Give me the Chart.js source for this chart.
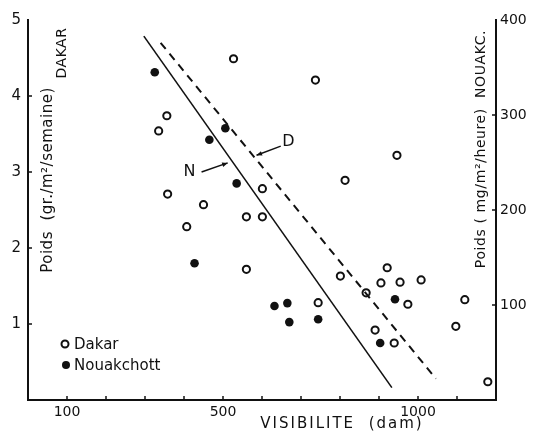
<!DOCTYPE html>
<html>
<head>
<meta charset="utf-8">
<script src="https://cdn.jsdelivr.net/npm/chart.js@4"></script>
<style>
  body { margin: 0; background: #fff; }
  #wrap { width: 535px; height: 434px; }
</style>
</head>
<body>
<div id="wrap"><canvas id="canvas"></canvas></div>
<script>

// Dakar: visibility (dam) and weight (gr/m2/semaine, left axis)
let visDakar   = [527, 737, 356, 335, 358, 601, 450, 560, 601, 407, 560, 813, 946, 744, 801, 921, 905, 954, 1008, 867, 974, 1120, 1097, 890, 939, 1179];
let poidsDakar = [4.49, 4.21, 3.74, 3.54, 2.71, 2.78, 2.57, 2.41, 2.41, 2.28, 1.72, 2.89, 3.22, 1.28, 1.63, 1.74, 1.54, 1.55, 1.58, 1.41, 1.26, 1.32, 0.97, 0.92, 0.75, 0.24];

// Nouakchott: visibility (dam) and weight (mg/m2/heure, right axis)
let visNouak   = [325, 506, 465, 535, 427, 632, 665, 670, 744, 941, 903];
let poidsNouak = [345, 286, 274, 228, 144, 99, 102, 82, 85, 106, 60];

// regression lines (end points)
let lineN_x = [297, 933];
let lineN_y = [383, 13];
let lineD_x = [340, 1046];
let lineD_y = [4.70, 0.28];

let xLabels = [100, 500, 1000];

function pts(xs, ys) {
  let out = [];
  for (let i = 0; i < xs.length; i++) out.push({x: xs[i], y: ys[i]});
  return out;
}

const FONT = '"DejaVu Sans", "Liberation Sans", sans-serif';

// draws inward ticks, axis titles, legend and the N / D arrows
let extras = {
  id: 'extras',
  afterDraw(chart) {
    let ctx = chart.ctx;
    let x = chart.scales.x, y = chart.scales.y, y1 = chart.scales.y1;
    let a = chart.chartArea;
    ctx.save();
    ctx.strokeStyle = '#111';
    ctx.lineWidth = 1.5;

    // inward tick marks
    for (let t of x.ticks) {
      if (t.value <= 0 || t.value >= 1200) continue;
      let px = x.getPixelForValue(t.value);
      ctx.beginPath(); ctx.moveTo(px, a.bottom); ctx.lineTo(px, a.bottom - 4); ctx.stroke();
    }
    for (let t of y.ticks) {
      if (t.value <= 0 || t.value >= 5) continue;
      let py = y.getPixelForValue(t.value);
      ctx.beginPath(); ctx.moveTo(a.left, py); ctx.lineTo(a.left + 4, py); ctx.stroke();
    }
    for (let t of y1.ticks) {
      if (t.value <= 0 || t.value >= 400) continue;
      let py = y1.getPixelForValue(t.value);
      ctx.beginPath(); ctx.moveTo(a.right, py); ctx.lineTo(a.right - 4, py); ctx.stroke();
    }

    ctx.fillStyle = '#111';
    ctx.textBaseline = 'middle';

    function vtext(str, cx, cy, size, spacing) {
      ctx.save();
      ctx.translate(cx, cy);
      ctx.rotate(-Math.PI / 2);
      ctx.textAlign = 'center';
      ctx.font = size + 'px ' + FONT;
      ctx.letterSpacing = spacing + 'px';
      ctx.fillText(str, 0, 0);
      ctx.restore();
    }

    // axis titles
    vtext('Poids  (gr./m²/semaine)', a.left + 20, 180, 15, 0.5);
    vtext('DAKAR', a.left + 34, 53, 14, 0.5);
    vtext('Poids ( mg/m²/heure)  NOUAKC.', a.right - 15, 149, 14, 0.6);

    ctx.save();
    ctx.textAlign = 'center';
    ctx.font = '15px ' + FONT;
    ctx.letterSpacing = '2px';
    ctx.fillText('VISIBILITE  (dam)', 342, 424);
    ctx.restore();

    // legend
    ctx.textAlign = 'left';
    ctx.font = '15px ' + FONT;
    ctx.lineWidth = 2;
    ctx.beginPath(); ctx.arc(a.left + 37, 344, 3.5, 0, Math.PI * 2); ctx.stroke();
    ctx.fillText('Dakar', a.left + 46, 345);
    ctx.beginPath(); ctx.arc(a.left + 38, 365, 4, 0, Math.PI * 2); ctx.fill();
    ctx.fillText('Nouakchott', a.left + 46, 366);

    // N and D labels with arrows
    function arrow(x0, y0, x1, y1v) {
      let p0 = [x.getPixelForValue(x0), y.getPixelForValue(y0)];
      let p1 = [x.getPixelForValue(x1), y.getPixelForValue(y1v)];
      ctx.lineWidth = 1.5;
      ctx.beginPath(); ctx.moveTo(p0[0], p0[1]); ctx.lineTo(p1[0], p1[1]); ctx.stroke();
      let ang = Math.atan2(p1[1] - p0[1], p1[0] - p0[0]);
      ctx.beginPath();
      ctx.moveTo(p1[0], p1[1]);
      ctx.lineTo(p1[0] - 6 * Math.cos(ang - 0.4), p1[1] - 6 * Math.sin(ang - 0.4));
      ctx.lineTo(p1[0] - 6 * Math.cos(ang + 0.4), p1[1] - 6 * Math.sin(ang + 0.4));
      ctx.closePath(); ctx.fill();
    }
    ctx.font = '16px ' + FONT;
    ctx.textAlign = 'center';
    ctx.fillText('N', x.getPixelForValue(414), y.getPixelForValue(3.0));
    arrow(445, 3.0, 512, 3.12);
    ctx.fillText('D', x.getPixelForValue(668), y.getPixelForValue(3.4));
    arrow(648, 3.34, 586, 3.22);

    ctx.restore();
  }
};

let options = {
  type: 'scatter',
  data: {
    datasets: [
      {
        label: 'N',
        data: pts(lineN_x, lineN_y),
        yAxisID: 'y1',
        showLine: true,
        borderColor: '#111',
        borderWidth: 1.6,
        pointRadius: 0
      },
      {
        label: 'D',
        data: pts(lineD_x, lineD_y),
        yAxisID: 'y',
        showLine: true,
        borderColor: '#111',
        borderWidth: 2,
        borderDash: [8, 6],
        pointRadius: 0
      },
      {
        label: 'Dakar',
        data: pts(visDakar, poidsDakar),
        yAxisID: 'y',
        pointRadius: 3.6,
        borderWidth: 2,
        borderColor: '#111',
        backgroundColor: '#fff'
      },
      {
        label: 'Nouakchott',
        data: pts(visNouak, poidsNouak),
        yAxisID: 'y1',
        pointRadius: 4.3,
        borderWidth: 0,
        backgroundColor: '#111'
      }
    ]
  },
  options: {
    responsive: false,
    animation: false,
    layout: { padding: { top: 20 } },
    plugins: {
      legend: { display: false },
      tooltip: { enabled: false }
    },
    scales: {
      x: {
        type: 'linear',
        min: 0,
        max: 1200,
        afterFit: s => { s.height = 34; },
        grid: { display: false, drawTicks: false },
        border: { display: true, color: '#111', width: 2 },
        ticks: {
          stepSize: 100,
          autoSkip: false,
          maxRotation: 0,
          padding: 4,
          color: '#111',
          font: { family: FONT, size: 14 },
          callback: v => xLabels.includes(v) ? v : ''
        }
      },
      y: {
        position: 'left',
        min: 0,
        max: 5,
        afterFit: s => { s.width = 28; },
        grid: { display: false, drawTicks: false },
        border: { display: true, color: '#111', width: 2 },
        ticks: {
          stepSize: 1,
          padding: 7,
          color: '#111',
          font: { family: FONT, size: 15 },
          callback: v => v > 0 ? v : ''
        }
      },
      y1: {
        position: 'right',
        min: 0,
        max: 400,
        afterFit: s => { s.width = 39; },
        grid: { display: false, drawTicks: false },
        border: { display: true, color: '#111', width: 2 },
        ticks: {
          stepSize: 100,
          padding: 4,
          color: '#111',
          font: { family: FONT, size: 14 },
          callback: v => v > 0 ? v : ''
        }
      }
    }
  },
  plugins: [extras]
};

let canvas = document.getElementById('canvas');
canvas.width = 535;
canvas.height = 434;
let chart = new Chart(canvas, options);
</script>
</body>
</html>
